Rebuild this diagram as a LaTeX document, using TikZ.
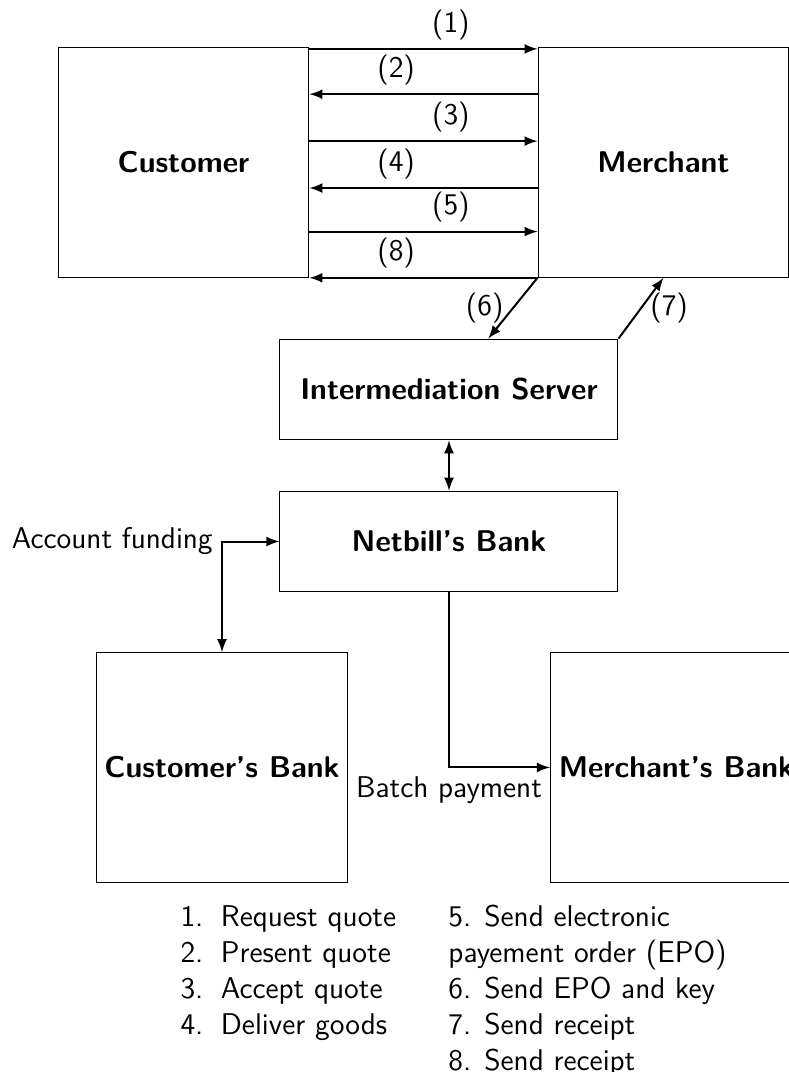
\documentclass[tikz,border=0pt]{standalone}

\begin{document}
\begin{tikzpicture}[x=1.2cm,y=1.2cm,font=\fontsize{12}{14.4}\selectfont\sffamily,
        box/.style={rectangle,draw,font=\fontsize{12}{14.4}\selectfont\sffamily\bfseries,minimum width=3.528cm,minimum height=3.228cm},
        srv/.style={rectangle,draw,font=\fontsize{12}{14.4}\selectfont\sffamily\bfseries,minimum width=4.752cm,minimum height=1.416cm},
        flow/.style={thick,-latex},
        both/.style={thick,latex-latex}]
    \useasboundingbox (0,0) rectangle (9.243,-12.559);

    \node [box] (cust) at (2.150,-1.904) {Customer};
    \node [box] (merch) at (7.773,-1.904) {Merchant};
    \node [srv] (server) at (5.260,-4.563) {Intermediation Server};
    \node [srv] (netbill) at (5.260,-6.344) {Netbill's Bank};
    \node [box] (cbank) at (2.601,-8.991) {Customer's Bank};
    \node [box] (mbank) at (7.925,-8.991) {Merchant's Bank};

    \draw[flow] ([yshift=-0.024cm]cust.north east) -- ([yshift=-0.024cm]merch.north west) node [pos=0.62, above] {(1)};
    \draw[flow] ([yshift=-0.66cm]merch.north west) -- ([yshift=-0.66cm]cust.north east) node [pos=0.62, above] {(2)};
    \draw[flow] ([yshift=-1.32cm]cust.north east) -- ([yshift=-1.32cm]merch.north west) node [pos=0.62, above] {(3)};
    \draw[flow] ([yshift=-1.98cm]merch.north west) -- ([yshift=-1.98cm]cust.north east) node [pos=0.62, above] {(4)};
    \draw[flow] ([yshift=-2.592cm]cust.north east) -- ([yshift=-2.592cm]merch.north west) node [pos=0.62, above] {(5)};
    \draw[flow] (merch.south west) -- (cust.south east) node [pos=0.62, above] {(8)};

    \draw[flow] (merch.south west) -- ([xshift=0.552cm]server.north) node [midway, left] {(6)};
    \draw[flow] (server.north east) -- (merch.south) node [midway, right] {(7)};

    \draw[both] (server.south) -- (netbill.north);
    \draw[both] (cbank.north) |- (netbill.west) node [pos=0.5, left] {Account funding};
    \draw[flow] (netbill.south) |- (mbank.west) node [pos=0.5, below] {Batch payment};

    \node [anchor=north west, inner sep=0pt, align=left] (stepsA) at (2.109,-10.602)
        {1.\hspace{7pt}Request quote\\2.\hspace{7pt}Present quote\\3.\hspace{7pt}Accept quote\\4.\hspace{7pt}Deliver goods};
    \node [anchor=north west, inner sep=0pt, align=left] (stepsB) at (5.248,-10.602)
        {5. Send electronic\\payement order (EPO)\\6. Send EPO and key\\7. Send receipt\\8. Send receipt};

\end{tikzpicture}
\end{document}
